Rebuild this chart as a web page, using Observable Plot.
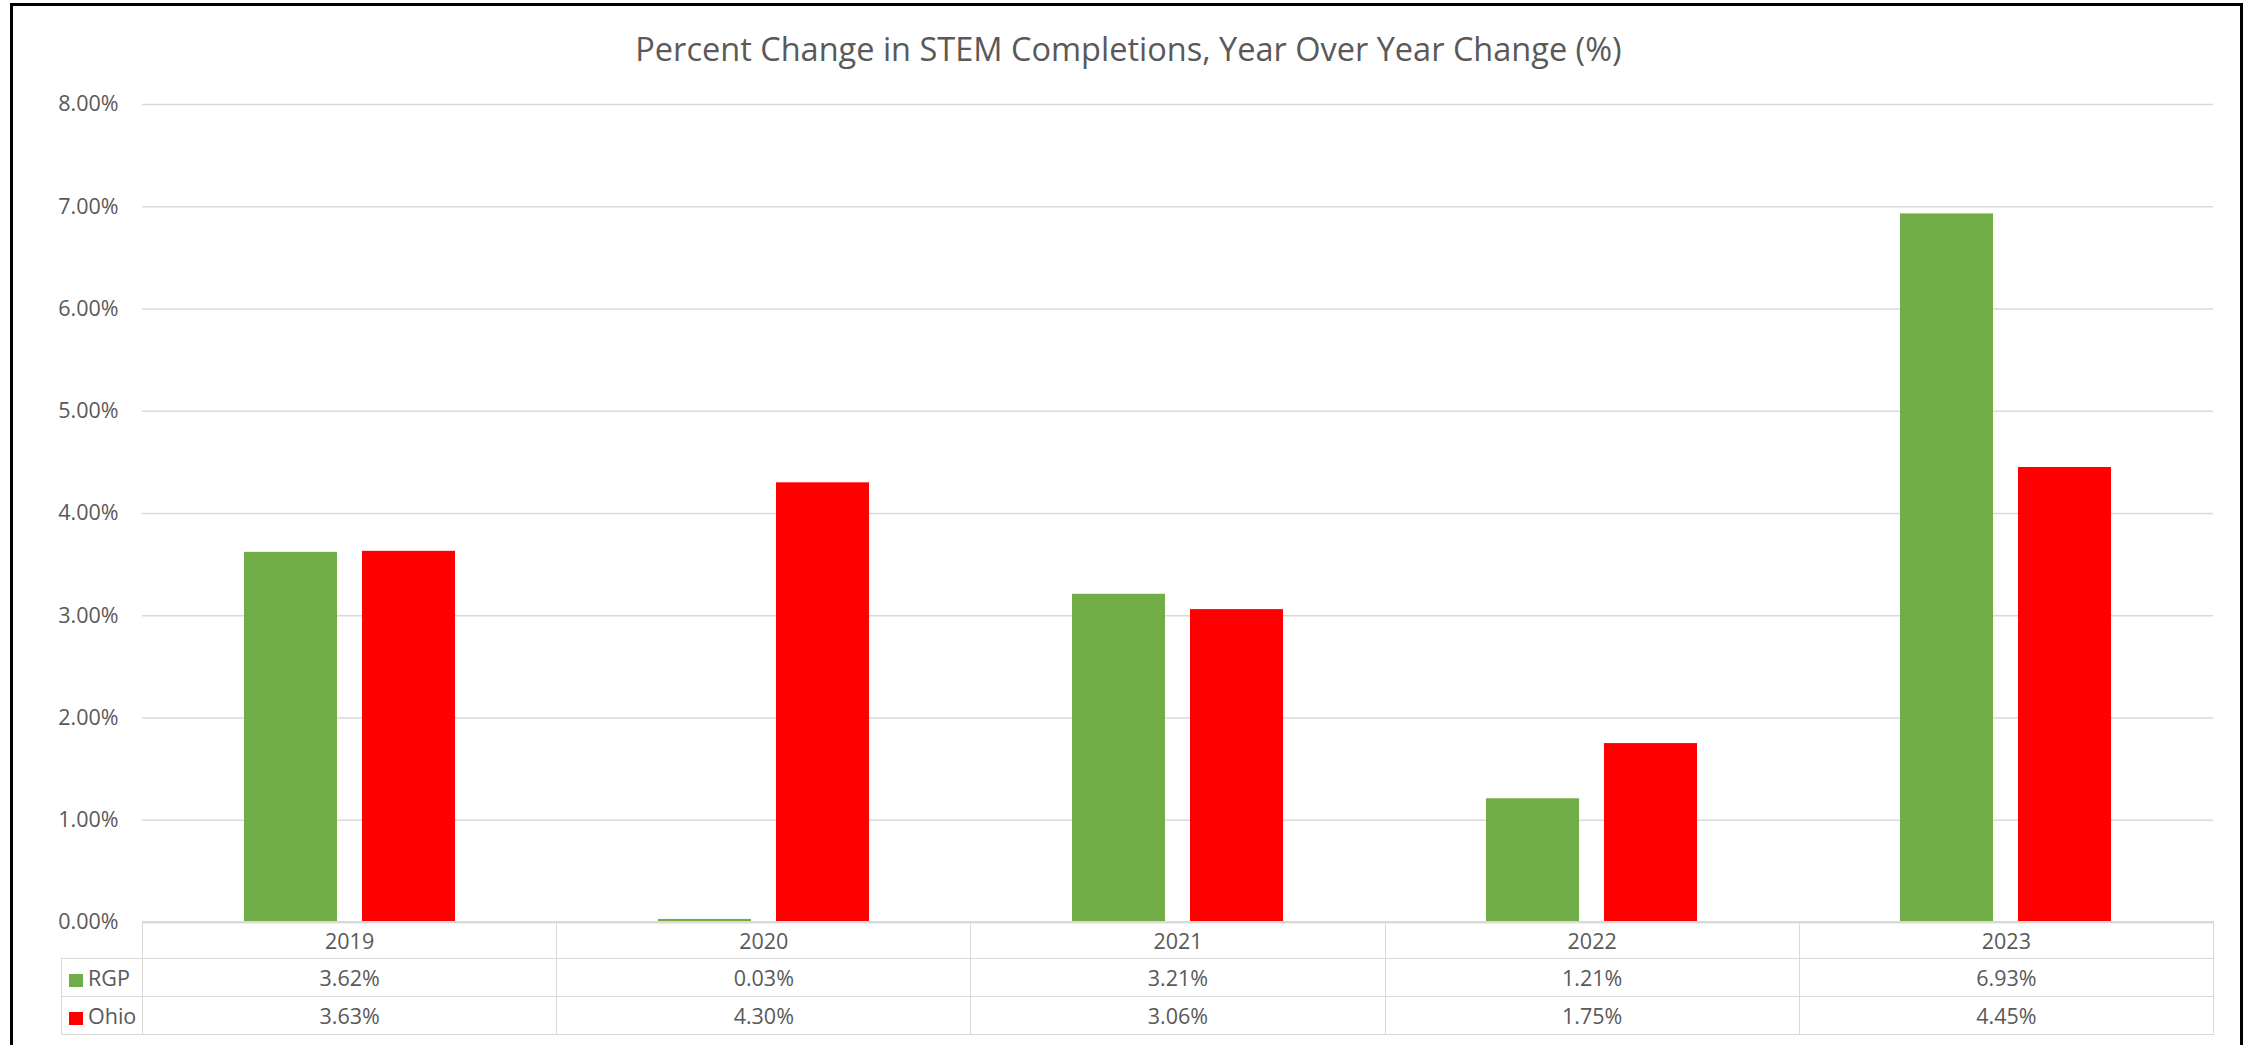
<!DOCTYPE html>
<html>
<head>
<meta charset="utf-8">
<script src="https://cdn.jsdelivr.net/npm/d3@7"></script>
<script src="https://cdn.jsdelivr.net/npm/@observablehq/plot@0.6"></script>
<style>
  html, body { margin: 0; padding: 0; background: #fff; overflow: hidden; }
  #page { position: relative; width: 2257px; height: 1045px; background: #fff; font-family: "Open Sans", sans-serif; color: #595959; }
  #frame { position: absolute; left: 10px; top: 3px; width: 2227px; height: 1060px; border: 3px solid #000; box-sizing: content-box; pointer-events: none; }
  #title { position: absolute; left: 0; width: 2257px; top: 25px; text-align: center; font-size: 32.5px; line-height: 48px; color: #595959; }
  #chart { position: absolute; left: 0; top: 80px; }
  #table { position: absolute; left: 61px; top: 921px; border-collapse: collapse; table-layout: fixed; font-size: 21.5px; color: #595959; }
  #table td { border: 1.5px solid #d9d9d9; text-align: center; padding: 0; white-space: nowrap; }
  #table td.blank { border: none; }
  #table td.leg { text-align: left; padding-left: 7px; }
  .sw { display: inline-block; width: 14px; height: 13px; margin-right: 5px; vertical-align: -1px; }
</style>
</head>
<body>
<div id="page">
  <div id="title"></div>
  <div id="chart"></div>
  <table id="table"></table>
  <div id="frame"></div>
</div>
<script>
const titleText = "Percent Change in STEM Completions, Year Over Year Change (%)";
const years = ["2019", "2020", "2021", "2022", "2023"];
const seriesNames = ["RGP", "Ohio"];
const rgp = [3.62, 0.03, 3.21, 1.21, 6.93];
const ohio = [3.63, 4.30, 3.06, 1.75, 4.45];
const yTicks = [0, 1, 2, 3, 4, 5, 6, 7, 8];
const colors = { RGP: "#70AD47", Ohio: "#FF0000" };

const fmt = v => v.toFixed(2) + "%";
const rows = years.map((year, i) => ({ year, RGP: rgp[i], Ohio: ohio[i] }));

document.getElementById("title").textContent = titleText;

const chart = Plot.plot({
  width: 2257,
  height: 860,
  marginLeft: 142,
  marginRight: 44,
  marginTop: 24,
  marginBottom: 18,
  style: { fontFamily: "Open Sans, sans-serif", fontSize: "21.5px", color: "#595959", background: "transparent", overflow: "visible" },
  x: { domain: years, padding: 0, axis: null },
  y: { domain: [0, 8], axis: null },
  marks: [
    Plot.gridY(yTicks, { stroke: "#d9d9d9", strokeOpacity: 1, strokeWidth: 1.5 }),
    Plot.axisY(yTicks, { tickSize: 0, tickPadding: 24, tickFormat: fmt, fill: "#595959", fontSize: 21.5 }),
    Plot.barY(rows, { x: "year", y: "RGP", fill: colors.RGP, insetLeft: 101, insetRight: 220 }),
    Plot.barY(rows, { x: "year", y: "Ohio", fill: colors.Ohio, insetLeft: 219, insetRight: 102 }),
    Plot.ruleY([0], { stroke: "#d9d9d9", strokeWidth: 1.5 })
  ]
});
document.getElementById("chart").appendChild(chart);

// data table below the chart
const table = document.getElementById("table");
const colW = (2213 - 142) / years.length;
const cg = document.createElement("colgroup");
const c0 = document.createElement("col"); c0.style.width = "81px"; cg.appendChild(c0);
years.forEach(() => { const c = document.createElement("col"); c.style.width = colW + "px"; cg.appendChild(c); });
table.appendChild(cg);

const head = document.createElement("tr");
head.style.height = "37px";
const blank = document.createElement("td"); blank.className = "blank"; head.appendChild(blank);
years.forEach(y => { const td = document.createElement("td"); td.textContent = y; head.appendChild(td); });
table.appendChild(head);

const seriesVals = { RGP: rgp, Ohio: ohio };
seriesNames.forEach(name => {
  const tr = document.createElement("tr");
  tr.style.height = "38px";
  const leg = document.createElement("td");
  leg.className = "leg";
  const sw = document.createElement("span"); sw.className = "sw"; sw.style.background = colors[name];
  leg.appendChild(sw);
  leg.appendChild(document.createTextNode(name));
  tr.appendChild(leg);
  seriesVals[name].forEach(v => { const td = document.createElement("td"); td.textContent = fmt(v); tr.appendChild(td); });
  table.appendChild(tr);
});
</script>
</body>
</html>
